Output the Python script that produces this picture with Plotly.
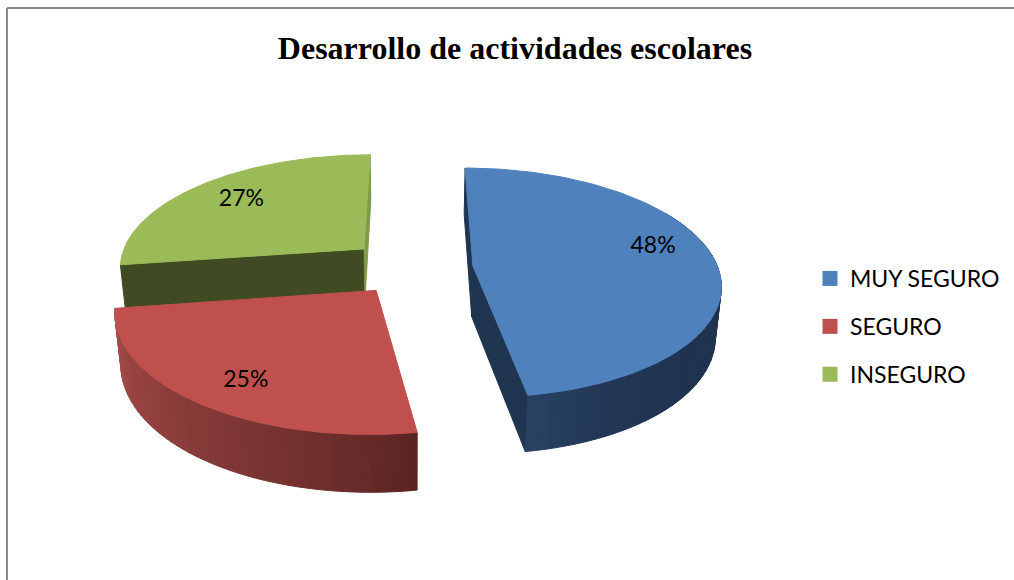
import numpy as np
import plotly.graph_objects as go

titulo = "Desarrollo de actividades escolares"
categorias = ["MUY SEGURO", "SEGURO", "INSEGURO"]
valores = [47.5, 25.2, 27.3]
colores = ["#4F81BD", "#C0504D", "#9BBB59"]
explosion = [0.245, 0.235, 0.26]
escala = [0.98, 1.0, 0.985]

# proyeccion del pastel 3D a pixeles
CX, CY = 412, 268
A, B, D = 250, 115, 52
K, M = 0.15, 0.02


def proyectar(theta, r, z, exp, medio):
    u = r * np.sin(theta) + exp * np.sin(medio)
    v = -r * np.cos(theta) - exp * np.cos(medio)
    s = 1 / (1 - K * v + M * z)
    return CX + A * u * s, CY + (B * v + D * z) * s


def mezclar(c1, c2, t):
    a = [int(c1[i:i + 2], 16) for i in (1, 3, 5)]
    b = [int(c2[i:i + 2], 16) for i in (1, 3, 5)]
    return "rgb(%d,%d,%d)" % tuple(a[i] + (b[i] - a[i]) * t for i in range(3))


def poligono(fig, xs, ys, color):
    fig.add_trace(go.Scatter(
        x=list(xs) + [xs[0]], y=list(ys) + [ys[0]], mode="lines", fill="toself",
        fillcolor=color, line=dict(color=color, width=1),
        hoverinfo="skip", showlegend=False,
    ))


def cara_corte(fig, theta, r, exp, medio, color):
    xa, ya = proyectar(0, 0, 0, exp, medio)
    xb, yb = proyectar(theta, r, 0, exp, medio)
    xc, yc = proyectar(theta, r, 1, exp, medio)
    xd, yd = proyectar(0, 0, 1, exp, medio)
    poligono(fig, [xa, xb, xc, xd], [ya, yb, yc, yd], color)


def lateral(fig, t0, t1, r, exp, medio, c0, c1, curva=1.0, n=50):
    ts = np.linspace(t0, t1, n + 1)
    for i in range(n):
        x1, y1 = proyectar(ts[i], r, 0, exp, medio)
        x2, y2 = proyectar(ts[i + 1], r, 0, exp, medio)
        x3, y3 = proyectar(ts[i + 1], r, 1, exp, medio)
        x4, y4 = proyectar(ts[i], r, 1, exp, medio)
        poligono(fig, [x1, x2, x3, x4], [y1, y2, y3, y4], mezclar(c0, c1, (i / n) ** curva))


def tapa(fig, t0, t1, r, exp, medio, color):
    ts = np.linspace(t0, t1, 120)
    xs, ys = proyectar(ts, r, 0, exp, medio)
    xa, ya = proyectar(0, 0, 0, exp, medio)
    poligono(fig, [xa] + list(xs), [ya] + list(ys), color)


fracciones = np.array(valores) / sum(valores)
fin = np.cumsum(fracciones) * 2 * np.pi
ini = fin - fracciones * 2 * np.pi
med = (ini + fin) / 2

fig = go.Figure()

# verde
cara_corte(fig, ini[2], escala[2], explosion[2], med[2], "#404A23")
cara_corte(fig, fin[2], escala[2], explosion[2], med[2], "#7F994A")
tapa(fig, ini[2], fin[2], escala[2], explosion[2], med[2], colores[2])

# rojo
lateral(fig, ini[1], fin[1], escala[1], explosion[1], med[1], "#5A2423", "#A74C48", curva=0.8)
tapa(fig, ini[1], fin[1], escala[1], explosion[1], med[1], colores[1])

# azul
cara_corte(fig, ini[0], escala[0], explosion[0], med[0], "#1F3550")
cara_corte(fig, fin[0], escala[0], explosion[0], med[0], "#1F3550")
lateral(fig, np.radians(60), fin[0], escala[0], explosion[0], med[0], "#1F334F", "#2A4365", curva=6)
tapa(fig, ini[0], fin[0], escala[0], explosion[0], med[0], colores[0])

# etiquetas de porcentaje
giro = np.radians([-8, -3, 0])
radio = [0.765, 0.8, 0.73]
for i in range(3):
    lx, ly = proyectar(med[i] + giro[i], radio[i], 0, explosion[i], med[i])
    fig.add_trace(go.Scatter(
        x=[lx], y=[ly], mode="text", text=[f"{round(valores[i])}%"],
        textposition="middle center",
        textfont=dict(family="Lato", size=23, color="#000000"),
        hoverinfo="skip", showlegend=False,
    ))

# leyenda
for nombre, color in zip(categorias, colores):
    fig.add_trace(go.Scatter(
        x=[None], y=[None], mode="markers", name=nombre, legendgroup=nombre,
        marker=dict(symbol="square", size=15, color=color),
    ))

fig.update_layout(
    width=1014, height=580,
    margin=dict(l=0, r=0, t=0, b=0),
    paper_bgcolor="#FFFFFF", plot_bgcolor="#FFFFFF",
    title=dict(
        text=f"<b>{titulo}</b>", x=515 / 1014, xanchor="center",
        y=1 - 48 / 580, yanchor="middle",
        font=dict(family="Liberation Serif", size=32, color="#000000"),
    ),
    xaxis=dict(range=[0, 1014], visible=False),
    yaxis=dict(range=[580, 0], visible=False),
    legend=dict(
        x=810 / 1014, xanchor="left", y=1 - 257 / 580, yanchor="top",
        tracegroupgap=15, bgcolor="rgba(0,0,0,0)",
        font=dict(family="Lato", size=23, color="#000000"),
    ),
    shapes=[
        dict(type="line", x0=7, x1=1014, y0=8, y1=8, line=dict(color="#8A8A8A", width=2)),
        dict(type="line", x0=7, x1=7, y0=8, y1=580, line=dict(color="#8A8A8A", width=2)),
    ],
)

# la pagina trae margen de 8px en el body
fig.write_html(
    "out.html",
    config={"displayModeBar": False},
    post_script="document.body.style.margin='0';document.body.style.overflow='hidden';",
)
